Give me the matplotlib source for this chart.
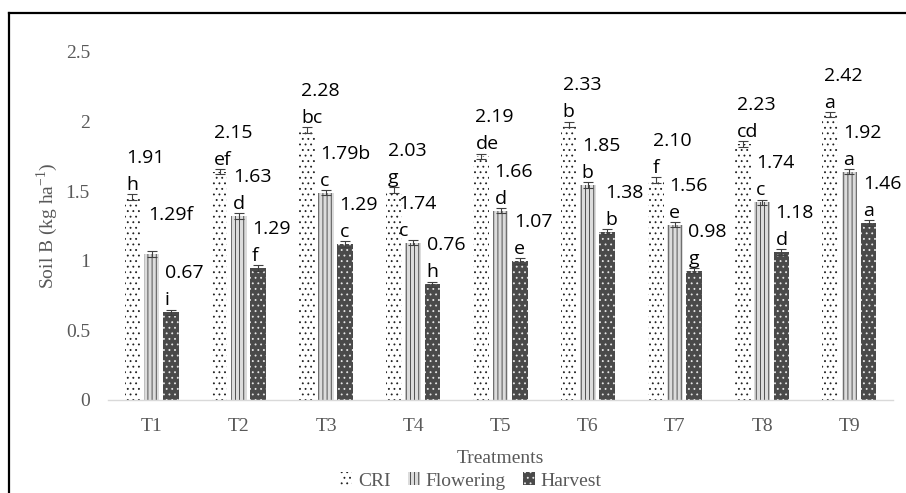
import matplotlib
matplotlib.use("Agg")
import matplotlib.pyplot as plt
import numpy as np
from matplotlib.lines import Line2D

# ---------------- data ----------------
treatments = ["T1", "T2", "T3", "T4", "T5", "T6", "T7", "T8", "T9"]
series = ["CRI", "Flowering", "Harvest"]

# bar heights as drawn (kg ha-1)
cri = [1.46, 1.64, 1.94, 1.51, 1.75, 1.98, 1.58, 1.84, 2.05]
flowering = [1.05, 1.32, 1.49, 1.13, 1.36, 1.545, 1.26, 1.42, 1.64]
harvest = [0.63, 0.95, 1.12, 0.83, 1.00, 1.21, 0.93, 1.065, 1.27]
errors = [0.02] * 9

# data-label texts (value line, letter line)
cri_values = ["1.91", "2.15", "2.28", "2.03", "2.19", "2.33", "2.10", "2.23", "2.42"]
cri_letters = ["h", "ef", "bc", "g", "de", "b", "f", "cd", "a"]
flow_values = ["1.29f", "1.63", "1.79b", "1.74", "1.66", "1.85", "1.56", "1.74", "1.92"]
flow_letters = ["", "d", "c", "c", "d", "b", "e", "c", "a"]
harv_values = ["0.67", "1.29", "1.29", "0.76", "1.07", "1.38", "0.98", "1.18", "1.46"]
harv_letters = ["i", "f", "c", "h", "e", "b", "g", "d", "a"]

y_ticks = [0, 0.5, 1, 1.5, 2, 2.5]
y_tick_labels = ["0", "0.5", "1", "1.5", "2", "2.5"]

# ---------------- styling ----------------
plt.rcParams["hatch.linewidth"] = 0.6
SERIF = ["Liberation Serif", "DejaVu Serif"]
LABEL_FONT = ["Open Sans", "DejaVu Sans"]
GRAY = "#595959"

fig = plt.figure(figsize=(9.06, 4.93), dpi=100)
ax = fig.add_axes([108 / 906, 1 - 400 / 493, (893 - 108) / 906, (400 - 52) / 493])

x = np.arange(len(treatments))
width = 0.18
offsets = [-0.22, 0.0, 0.22]
styles = [
    dict(facecolor="white", edgecolor="#202020", hatch="..."),
    dict(facecolor="#dcdcdc", edgecolor="#3a3a3a", hatch="||||"),
    dict(facecolor="#4a4a4a", edgecolor="#e8e8e8", hatch="..."),
]
all_vals = [cri, flowering, harvest]
all_labels = [(cri_values, cri_letters), (flow_values, flow_letters),
              (harv_values, harv_letters)]

# small manual nudges of individual labels (pixels), as in the original
nudge_px = {(3, 1): -9, (5, 2): 4, (6, 0): 3, (0, 1): 2}

px = 0.72  # points per pixel at 100 dpi
for s, (vals, st) in enumerate(zip(all_vals, styles)):
    xs = x + offsets[s]
    ax.bar(xs, vals, width=width, linewidth=0, label=series[s], **st)
    ax.errorbar(xs, vals, yerr=errors, fmt="none", ecolor="#404040",
                elinewidth=0.8, capsize=3.5, capthick=0.8)
    vtexts, ltexts = all_labels[s]
    for i in range(len(treatments)):
        dx = (2 + nudge_px.get((i, s), 0)) * px
        left = xs[i] - width / 2
        ax.annotate(vtexts[i], xy=(left, vals[i]), xytext=(dx, 34 * px),
                    textcoords="offset points", ha="left", va="baseline",
                    fontsize=14, family=LABEL_FONT, color="black",
                    annotation_clip=False)
        if ltexts[i]:
            ax.annotate(ltexts[i], xy=(left, vals[i]), xytext=(dx, 7 * px),
                        textcoords="offset points", ha="left", va="baseline",
                        fontsize=14, family=LABEL_FONT, color="black",
                        annotation_clip=False)

ax.set_xlim(-0.5, len(treatments) - 0.5)
ax.set_ylim(0, 2.5)
ax.set_yticks(y_ticks)
ax.set_yticklabels(y_tick_labels)
ax.set_xticks(x)
ax.set_xticklabels(treatments)
for lab in ax.get_xticklabels() + ax.get_yticklabels():
    lab.set_family(SERIF)
    lab.set_fontsize(14)
    lab.set_color(GRAY)
ax.tick_params(axis="both", length=0)
ax.tick_params(axis="y", pad=13)
ax.tick_params(axis="x", pad=13)

for side in ["top", "right", "left"]:
    ax.spines[side].set_visible(False)
ax.spines["bottom"].set_color("#d9d9d9")
ax.spines["bottom"].set_linewidth(1.0)

ax.set_xlabel("Treatments", family=SERIF, fontsize=14, color=GRAY, labelpad=11)
ax.set_ylabel(r"Soil B (kg ha$^{\mathregular{-1}}$)", family=SERIF, fontsize=14,
              color=GRAY, labelpad=4)

leg = fig.legend(loc="center", bbox_to_anchor=(471 / 906, 1 - 481 / 493),
                 ncol=3, frameon=False, handlelength=0.6, handleheight=0.6,
                 handletextpad=0.3, columnspacing=0.9,
                 prop={"family": SERIF, "size": 14})
for t in leg.get_texts():
    t.set_color(GRAY)

# outer frame (left and top edges visible in the original crop)
fig.add_artist(Line2D([9 / 906, 9 / 906], [0, 1 - 13 / 493], transform=fig.transFigure,
                      color="black", linewidth=1.6))
fig.add_artist(Line2D([9 / 906, 1], [1 - 13 / 493, 1 - 13 / 493], transform=fig.transFigure,
                      color="black", linewidth=1.6))

fig.savefig("out.png", dpi=100)
